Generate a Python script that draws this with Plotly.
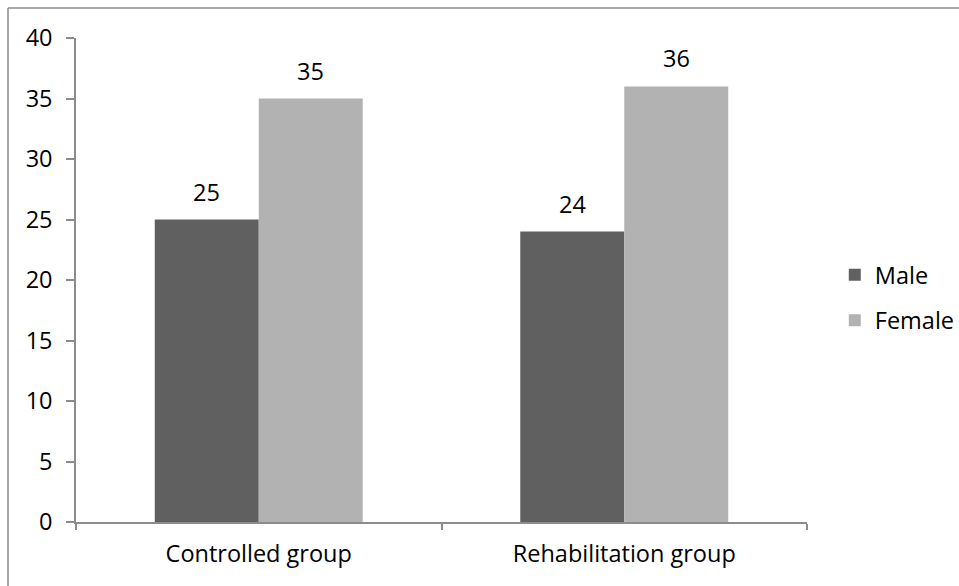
import plotly.graph_objects as go

# Participants by sex in each study group
groups = ["Controlled group", "Rehabilitation group"]
male = [25, 24]
female = [35, 36]
y_ticks = [0, 5, 10, 15, 20, 25, 30, 35, 40]

FONT = "'Open Sans', Lato, sans-serif"
FSIZE = 23.5
AXIS_GREY = "#8c8c8c"
BARGAP = 0.431

fig = go.Figure()
fig.add_trace(go.Bar(name="Male", x=groups, y=male, marker_color="#606060",
                     marker_line_width=0, legendgroup="m"))
fig.add_trace(go.Bar(name="Female", x=groups, y=female, marker_color="#b2b2b2",
                     marker_line_width=0, legendgroup="f"))

# value labels above each bar (bar centres sit a quarter of the group width
# either side of the category centre)
half = (1 - BARGAP) / 4
for i, g in enumerate(groups):
    for val, off in ((male[i], -half), (female[i], half)):
        fig.add_annotation(x=i + off, y=val, xref="x", yref="y", text=str(val),
                           showarrow=False, yanchor="bottom", yshift=10,
                           font=dict(family=FONT, size=FSIZE, color="#000"))

fig.update_layout(
    width=959, height=586,
    margin=dict(l=76, r=152, t=38, b=64, autoexpand=False),
    paper_bgcolor="white", plot_bgcolor="white",
    barmode="group", bargap=BARGAP, bargroupgap=0,
    font=dict(family=FONT, size=FSIZE, color="#000"),
    showlegend=True,
    legend=dict(x=1.038, xanchor="left", y=0.463, yanchor="middle",
                traceorder="grouped", tracegroupgap=12,
                font=dict(family=FONT, size=FSIZE, color="#000"),
                bgcolor="rgba(0,0,0,0)"),
    xaxis=dict(showline=True, linecolor=AXIS_GREY, linewidth=1.5,
               ticks="outside", tickson="boundaries", ticklen=6,
               tickcolor=AXIS_GREY, tickwidth=1.5, ticklabelstandoff=10,
               showgrid=False, zeroline=False),
    yaxis=dict(range=[0, 40], tickvals=y_ticks, showline=True,
               linecolor=AXIS_GREY, linewidth=1.5, ticks="outside", ticklen=8,
               tickcolor=AXIS_GREY, tickwidth=1.5, ticklabelstandoff=9,
               showgrid=False, zeroline=False),
    shapes=[
        dict(type="line", xref="paper", yref="paper", x0=-0.0930, x1=1.3,
             y0=1.062, y1=1.062, line=dict(color=AXIS_GREY, width=1.5)),
        dict(type="line", xref="paper", yref="paper", x0=-0.0930, x1=-0.0930,
             y0=1.062, y1=-0.2, line=dict(color=AXIS_GREY, width=1.5)),
    ],
)

fig.write_html("out.html")
